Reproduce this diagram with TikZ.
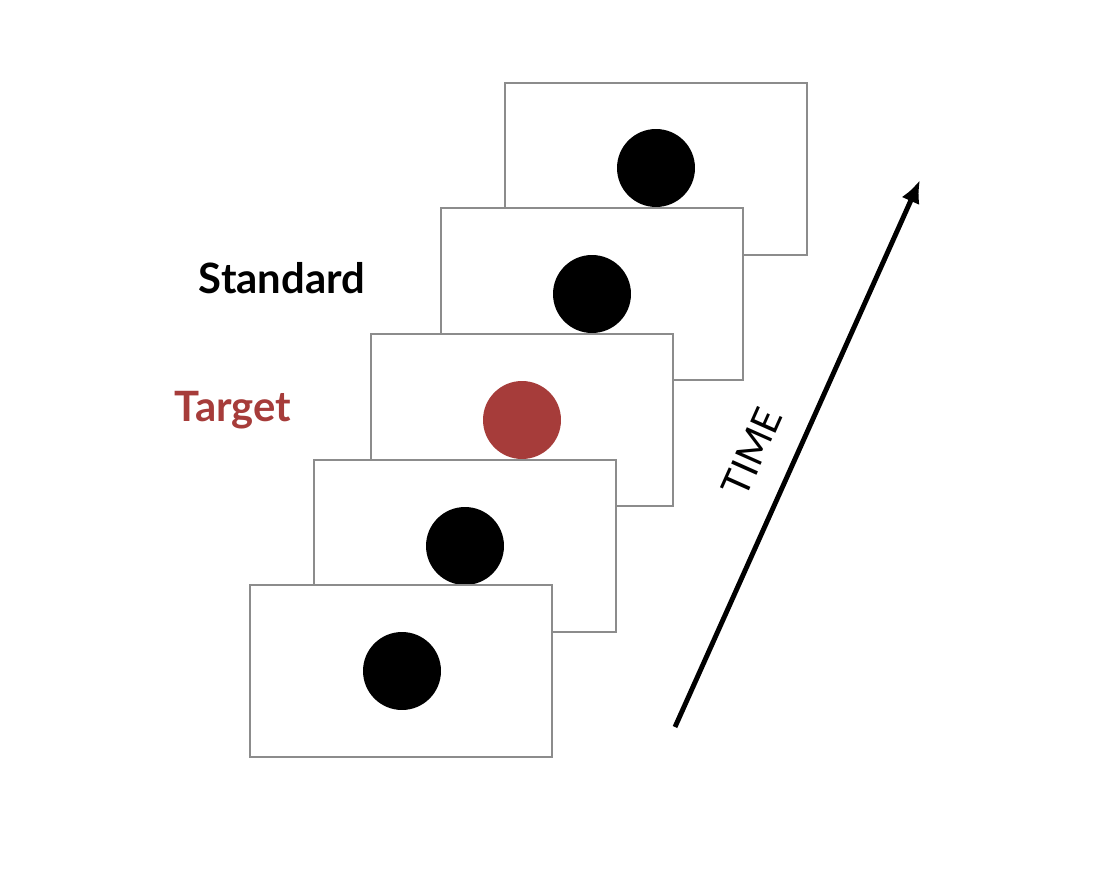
\documentclass[tikz,border=0pt]{standalone}
\usepackage{fontspec}
\setmainfont{Lato}
\usetikzlibrary{arrows.meta}
\begin{document}
\begin{tikzpicture}[x=0.02cm,y=-0.02cm,
  frame/.style={draw=black!45,line width=0.8pt,fill=white},
  dot/.style={circle,fill=black,minimum size=1.56cm,inner sep=0pt},
  lbl/.style={font=\bfseries\fontsize{23.8}{28}\selectfont}]
\useasboundingbox (0,0) rectangle (1110,882);
\definecolor{tred}{HTML}{A63C3A}
\foreach \l/\t/\cx/\cy/\c/\n in {505/83/656/168/black/a,441/208/592/294/black/b,371/334/522/420/tred/c,314/460/465/546/black/d,250/585/402/671/black/e}{
  \draw[frame] (\l,\t) rectangle ++(302,172);
  \node[dot,fill=\c] (dot\n) at (\cx,\cy) {};
}
\node[lbl] (std) at (282,278) {Standard};
\node[lbl,text=tred] (tgt) at (233,410) {Target};
\coordinate (s) at (675,727);
\coordinate (e) at (920,180);
\draw[line width=2.8pt,-{Latex[length=13pt,width=11pt]}] (s) -- (e);
\node[font=\fontsize{22}{26}\selectfont,rotate=66,inner sep=1pt] (time) at (752,452) {TIME};
\end{tikzpicture}
\end{document}
